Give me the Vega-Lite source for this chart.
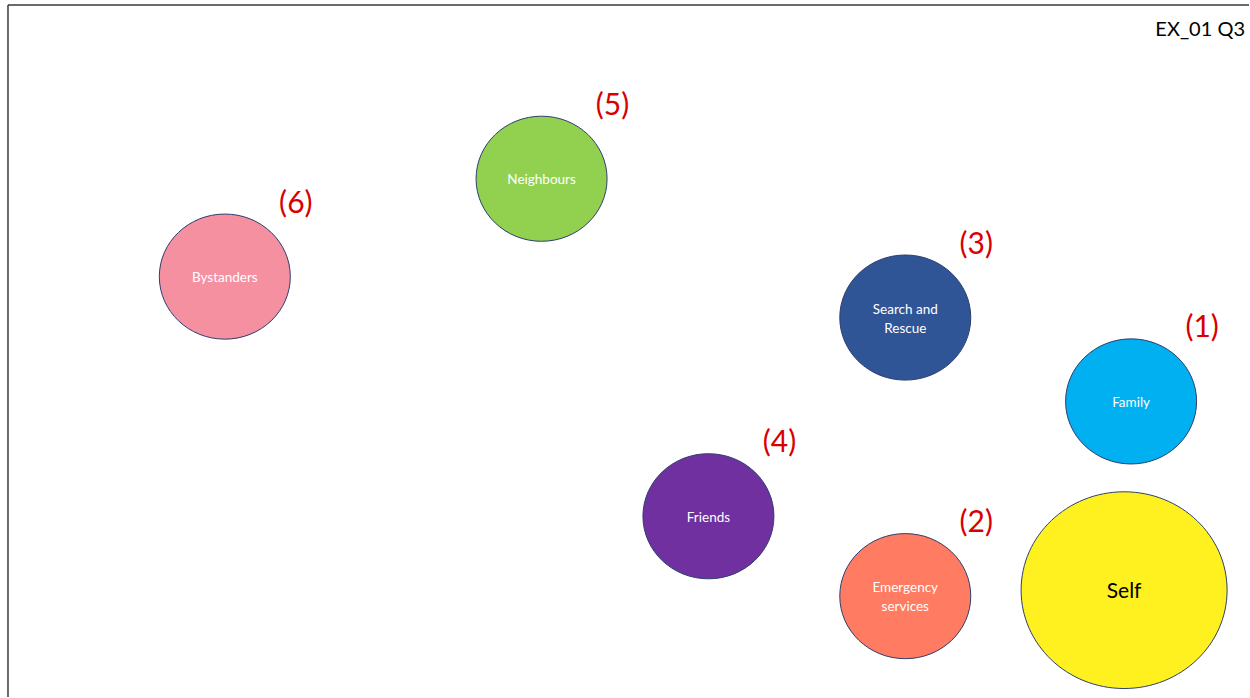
{
  "$schema": "https://vega.github.io/schema/vega-lite/v6.json",
  "width": 1250,
  "height": 698,
  "autosize": {"type": "fit", "contains": "padding"},
  "padding": 0,
  "background": "#FFFFFF",
  "config": {"view": {"stroke": null}, "font": "Lato"},
  "data": {
    "values": [
      {"name": "Bystanders", "label": "Bystanders", "lines": 1, "x": 225, "y": 277, "rank": "(6)", "group": "small"},
      {"name": "Neighbours", "label": "Neighbours", "lines": 1, "x": 542, "y": 179, "rank": "(5)", "group": "small"},
      {"name": "Search and Rescue", "label": "Search and\nRescue", "lines": 2, "x": 906, "y": 318, "rank": "(3)", "group": "small"},
      {"name": "Family", "label": "Family", "lines": 1, "x": 1132, "y": 402, "rank": "(1)", "group": "small"},
      {"name": "Friends", "label": "Friends", "lines": 1, "x": 709, "y": 517, "rank": "(4)", "group": "small"},
      {"name": "Emergency services", "label": "Emergency\nservices", "lines": 2, "x": 906, "y": 597, "rank": "(2)", "group": "small"},
      {"name": "Self", "label": "Self", "lines": 1, "x": 1125, "y": 591, "rank": null, "group": "large"}
    ]
  },
  "encoding": {
    "x": {"field": "x", "type": "quantitative", "scale": {"domain": [0, 1250], "nice": false, "zero": false}, "axis": null},
    "y": {"field": "y", "type": "quantitative", "scale": {"domain": [698, 0], "nice": false, "zero": false}, "axis": null}
  },
  "layer": [
    {
      "data": {"values": [{"fx": 8, "y1": 5, "y2": 698}]},
      "mark": {"type": "rule", "stroke": "#3A3A3A", "strokeWidth": 1.5},
      "encoding": {
        "x": {"field": "fx", "type": "quantitative"},
        "y": {"field": "y1", "type": "quantitative"},
        "y2": {"field": "y2"}
      }
    },
    {
      "data": {"values": [{"fy": 5, "x1": 8, "x2": 1250}]},
      "mark": {"type": "rule", "stroke": "#3A3A3A", "strokeWidth": 1.5},
      "encoding": {
        "y": {"field": "fy", "type": "quantitative"},
        "x": {"field": "x1", "type": "quantitative"},
        "x2": {"field": "x2"}
      }
    },
    {
      "mark": {
        "type": "point",
        "filled": true,
        "opacity": 1,
        "fillOpacity": 1,
        "stroke": "#2E3F6E",
        "strokeWidth": 1,
        "shape": "M-1,0A1,0.955,0,1,1,1,0A1,0.955,0,1,1,-1,0Z"
      },
      "encoding": {
        "color": {
          "field": "name",
          "type": "nominal",
          "legend": null,
          "scale": {
            "domain": ["Bystanders", "Neighbours", "Search and Rescue", "Family", "Friends", "Emergency services", "Self"],
            "range": ["#F4909F", "#92D050", "#2F5597", "#00B0F0", "#7030A0", "#FF7B61", "#FFF01F"]
          }
        },
        "size": {
          "field": "group",
          "type": "nominal",
          "legend": null,
          "scale": {"domain": ["small", "large"], "range": [17161, 42436]}
        }
      }
    },
    {
      "transform": [{"filter": "datum.lines == 1"}],
      "mark": {"type": "text", "font": "Lato", "align": "center", "baseline": "middle", "dy": 1.5},
      "encoding": {
        "text": {"field": "label"},
        "color": {"condition": {"test": "datum.name === 'Self'", "value": "#000000"}, "value": "#FFFFFF"},
        "size": {"condition": {"test": "datum.name === 'Self'", "value": 21}, "value": 13.5}
      }
    },
    {
      "transform": [{"filter": "datum.lines == 2"}],
      "mark": {"type": "text", "lineBreak": "\n", "lineHeight": 19, "font": "Lato", "fontSize": 13.5, "color": "#FFFFFF", "align": "center", "baseline": "middle", "dy": -8},
      "encoding": {"text": {"field": "label"}}
    },
    {
      "transform": [{"filter": "datum.rank != null"}],
      "mark": {"type": "text", "font": "Lato", "fontSize": 30, "color": "#D80000", "dx": 71, "dy": -73, "align": "center", "baseline": "middle"},
      "encoding": {"text": {"field": "rank"}}
    },
    {
      "data": {"values": [{"tx": 1246, "ty": 30, "t": "EX_01 Q3"}]},
      "mark": {"type": "text", "font": "Lato", "fontSize": 20, "color": "#000000", "align": "right", "baseline": "middle"},
      "encoding": {
        "x": {"field": "tx", "type": "quantitative"},
        "y": {"field": "ty", "type": "quantitative"},
        "text": {"field": "t"}
      }
    }
  ]
}
